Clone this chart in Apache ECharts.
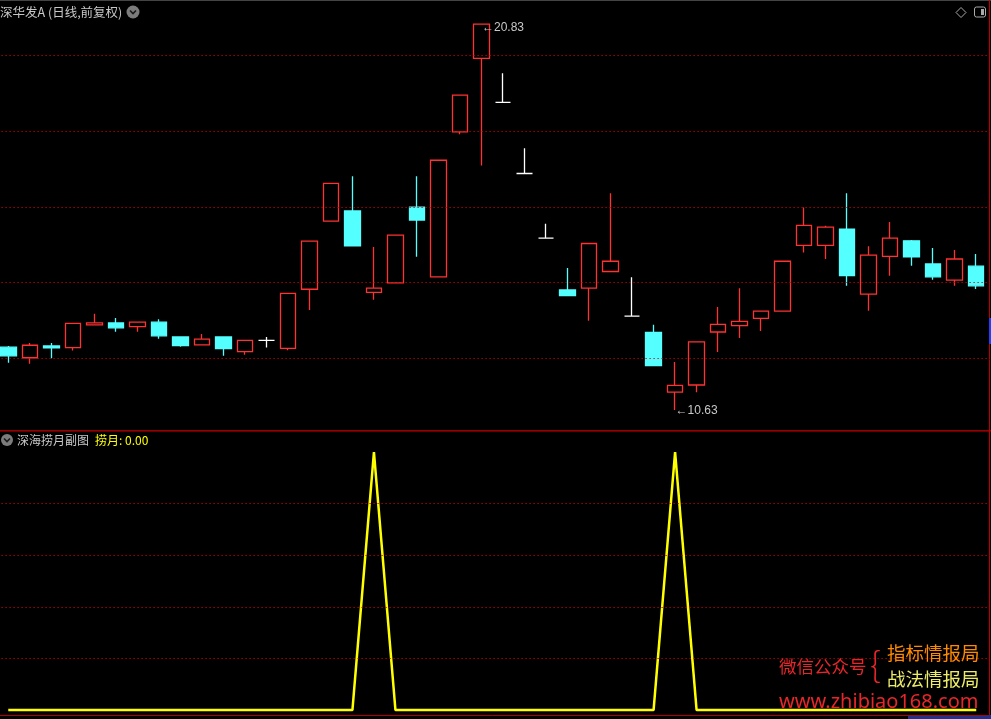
<!DOCTYPE html>
<html><head><meta charset="utf-8">
<script src="https://cdn.jsdelivr.net/npm/echarts@6/dist/echarts.min.js"></script>
<style>html,body{margin:0;padding:0;background:#000;overflow:hidden;width:991px;height:719px;}#c{position:absolute;left:-3px;top:0;width:994px;height:719px;}</style>
</head><body><div id="c"></div>
<script>
// ---- data ----
const categories = Array.from({length: 46}, (_, i) => 'D' + (i + 1));
const openVals  = [12.29,12.01,12.32,12.28,12.88,12.93,12.83,12.95,12.56,12.35,12.56,12.17,12.47,12.26,13.82,15.62,15.89,13.74,13.99,15.99,14.15,17.98,19.92,18.76,16.88,15.17,13.80,13.85,14.29,13.11,12.68,11.10,11.29,12.69,12.86,13.05,13.24,14.98,14.98,15.41,13.69,14.69,15.10,14.49,14.06,14.43];
const closeVals = [12.06,12.34,12.27,12.92,12.93,12.80,12.95,12.59,12.33,12.50,12.25,12.47,12.47,13.71,15.09,16.62,14.97,13.85,15.25,15.65,17.23,18.95,20.83,18.76,16.88,15.17,13.65,15.03,14.56,13.11,11.80,11.28,12.43,12.89,12.97,13.24,14.56,15.51,15.46,14.18,14.72,15.17,14.68,14.15,14.62,13.91];
const lowVals   = [11.88,11.85,12.00,12.20,12.86,12.70,12.70,12.51,12.30,12.35,12.06,12.09,12.28,12.21,13.27,15.62,14.97,13.54,13.99,14.68,14.15,17.92,17.09,18.76,16.88,15.17,13.65,12.99,14.29,13.11,11.80,10.63,11.10,12.16,12.53,12.72,13.24,14.79,14.62,13.91,13.25,14.18,14.44,14.07,13.91,13.83];
const highVals  = [12.32,12.40,12.40,12.92,13.17,13.06,12.95,13.03,12.58,12.64,12.56,12.47,12.56,13.71,15.09,16.62,16.81,14.94,15.25,16.81,17.23,18.95,20.83,19.53,17.55,15.55,14.38,15.03,16.36,14.14,12.88,11.90,12.43,13.35,13.85,13.24,14.56,15.98,15.50,16.36,14.96,15.60,15.12,14.91,14.86,14.75];
const moonVals  = [0,0,0,0,0,0,0,0,0,0,0,0,0,0,0,0,0,100,0,0,0,0,0,0,0,0,0,0,0,0,0,100,0,0,0,0,0,0,0,0,0,0,0,0,0,0];
const priceGrid = [12,14,16,18,20];
const subGrid   = [20,40,60,80];
const titleText = '深华发A (日线,前复权)';
const subTitle  = '深海捞月副图';
const moonLabel = '捞月: 0.00';

// ---- build ----
const UP = '#ff3232', DOWN = '#54ffff', DOJI = '#ffffff';
const candleData = categories.map((c, i) => {
  const item = { value: [openVals[i], closeVals[i], lowVals[i], highVals[i]] };
  if (openVals[i] === closeVals[i]) {
    item.itemStyle = { color: DOJI, color0: DOJI, borderColor: DOJI, borderColor0: DOJI, borderColorDoji: DOJI };
  }
  return item;
});
let hiIdx = 0, loIdx = 0;
highVals.forEach((v, i) => { if (v > highVals[hiIdx]) hiIdx = i; });
lowVals.forEach((v, i) => { if (v < lowVals[loIdx]) loIdx = i; });

const gridLineStyle = { color: '#d80000', type: [1.2, 2.8], width: 1.2 };
const chart = echarts.init(document.getElementById('c'), null, { renderer: 'canvas' });
const DX = 3; // container is shifted 3px left of the page
const GX = { left: 0.5, right: 4 };

chart.setOption({
  backgroundColor: '#000',
  animation: false,
  grid: [
    { left: GX.left, right: GX.right, top: 17.6, height: 416.2 },
    { left: GX.left, right: GX.right, top: 431.4, height: 283.8 }
  ],
  xAxis: [
    { type: 'category', data: categories, gridIndex: 0, boundaryGap: true, show: false },
    { type: 'category', data: categories, gridIndex: 1, boundaryGap: true,
      axisLine: { show: true, onZero: false, lineStyle: { color: '#b00000', width: 1 } },
      axisTick: { show: false }, axisLabel: { show: false }, splitLine: { show: false } }
  ],
  yAxis: [
    { type: 'value', gridIndex: 0, min: 10, max: 21, show: false, splitLine: { show: false } },
    { type: 'value', gridIndex: 1, min: -2, max: 108, show: false, splitLine: { show: false } }
  ],
  series: [
    {
      type: 'candlestick', xAxisIndex: 0, yAxisIndex: 0, data: candleData,
      barWidth: 16,
      itemStyle: { color: '#000', color0: DOWN, borderColor: UP, borderColor0: DOWN, borderColorDoji: DOJI, borderWidth: 1.3 },
      markLine: { silent: true, symbol: ['none', 'none'], label: { show: false }, lineStyle: gridLineStyle,
        data: priceGrid.map(v => ({ yAxis: v })) },
      markPoint: {
        silent: true, symbol: 'circle', symbolSize: 1, itemStyle: { color: 'rgba(0,0,0,0)' },
        label: { show: true, position: 'right', distance: 0, color: '#c8c8c8', fontSize: 12, fontFamily: 'Liberation Sans, DejaVu Sans' },
        data: [
          { coord: [hiIdx, highVals[hiIdx]], label: { formatter: '←' + highVals[hiIdx].toFixed(2), offset: [0, 4] } },
          { coord: [loIdx, lowVals[loIdx]], label: { formatter: '←' + lowVals[loIdx].toFixed(2), offset: [0, 1] } }
        ]
      }
    },
    {
      type: 'line', xAxisIndex: 1, yAxisIndex: 1, data: moonVals, symbol: 'none',
      lineStyle: { color: '#ffff00', width: 2.5 },
      markLine: { silent: true, symbol: ['none', 'none'], label: { show: false }, lineStyle: gridLineStyle,
        data: subGrid.map(v => ({ yAxis: v })) }
    }
  ],
  graphic: [
    { type: 'line', shape: { x1: 0, y1: 0.5, x2: 994, y2: 0.5 }, style: { stroke: '#444', lineWidth: 1 } },
    { type: 'line', shape: { x1: 0, y1: 430.8, x2: 994, y2: 430.8 }, style: { stroke: '#c80000', lineWidth: 1.2 } },
    { type: 'line', shape: { x1: 989.5 + DX, y1: 0, x2: 989.5 + DX, y2: 719 }, style: { stroke: '#c00000', lineWidth: 1 } },
    { type: 'rect', shape: { x: 989 + DX, y: 318, width: 2, height: 26 }, style: { fill: '#2040ff' } },
    { type: 'rect', shape: { x: 908 + DX, y: 715, width: 83, height: 4 }, style: { fill: '#22308c' } },
    // header
    { type: 'text', x: 0 + DX, y: 12, style: { text: titleText, fill: '#c8c8c8', font: '12.5px "Noto Sans CJK SC"', textVerticalAlign: 'middle' } },
    { type: 'circle', shape: { cx: 133 + DX, cy: 12, r: 6.5 }, style: { fill: '#7c7c7c' } },
    { type: 'polyline', shape: { points: [[130 + DX, 10.5], [133 + DX, 13.5], [136 + DX, 10.5]] }, style: { stroke: '#1a1a1a', lineWidth: 1.6, fill: null } },
    { type: 'polygon', shape: { points: [[961 + DX, 7.5], [966 + DX, 12.5], [961 + DX, 17.5], [956 + DX, 12.5]] }, style: { stroke: '#aaa', fill: null, lineWidth: 1 } },
    { type: 'rect', shape: { x: 974.5 + DX, y: 7, width: 11, height: 10, r: 2 }, style: { stroke: '#aaa', fill: null, lineWidth: 1 } },
    { type: 'rect', shape: { x: 981 + DX, y: 9, width: 3, height: 6 }, style: { fill: '#aaa' } },
    // sub header
    { type: 'circle', shape: { cx: 7 + DX, cy: 440, r: 6 }, style: { fill: '#7c7c7c' } },
    { type: 'polyline', shape: { points: [[4 + DX, 438.5], [7 + DX, 441.5], [10 + DX, 438.5]] }, style: { stroke: '#1a1a1a', lineWidth: 1.6, fill: null } },
    { type: 'text', x: 17 + DX, y: 440, style: { text: subTitle, fill: '#c8c8c8', font: '12px "Noto Sans CJK SC"', textVerticalAlign: 'middle' } },
    { type: 'text', x: 95 + DX, y: 440, style: { text: moonLabel, fill: '#ffff00', font: '12px "Noto Sans CJK SC"', textVerticalAlign: 'middle' } },
    // watermark
    { type: 'text', x: 779 + DX, y: 666, z: 100, style: { text: '微信公众号', fill: '#e8262a', font: '17.5px "Noto Sans CJK SC"', textVerticalAlign: 'middle' } },
    { type: 'text', x: 870 + DX, y: 664, z: 100, style: { text: '{', fill: '#e8262a', font: '300 34px "Noto Sans CJK SC"', textVerticalAlign: 'middle' } },
    { type: 'text', x: 887 + DX, y: 653, z: 100, style: { text: '指标情报局', fill: '#ff8a00', font: '18.5px "Noto Sans CJK SC"', textVerticalAlign: 'middle' } },
    { type: 'text', x: 887 + DX, y: 679, z: 100, style: { text: '战法情报局', fill: '#ecec6a', font: '18.5px "Noto Sans CJK SC"', textVerticalAlign: 'middle' } },
    { type: 'text', x: 779 + DX, y: 702, z: 100, style: { text: 'www.zhibiao168.com', fill: '#e8262a', font: '20px "Noto Sans"', textVerticalAlign: 'middle' } }
  ]
});
</script></body></html>
